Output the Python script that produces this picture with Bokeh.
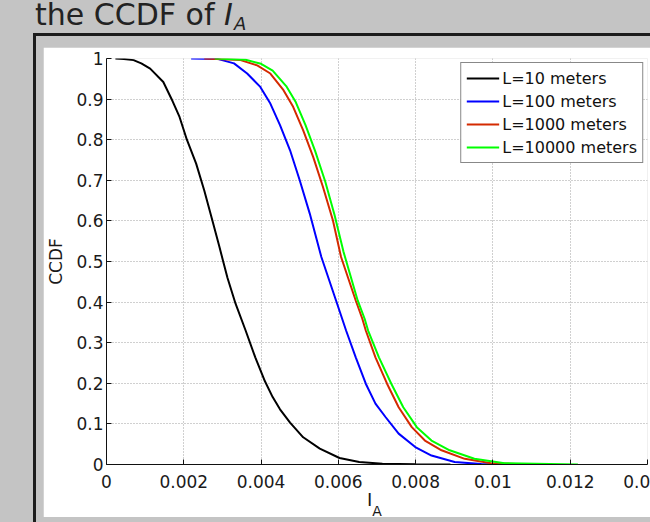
from bokeh.plotting import figure
from bokeh.layouts import column
from bokeh.models import Range1d, FixedTicker, Legend, LegendItem, Div
from bokeh.embed import file_html
from bokeh.resources import INLINE

# CCDF samples of the aggregate interference I_A for four region sizes L
ia_l10 = [0.00023, 0.00045, 0.0007, 0.0009, 0.00113, 0.00147, 0.00168, 0.00189,
          0.00208, 0.00232, 0.00253, 0.00274, 0.00292, 0.00302, 0.00313, 0.00334,
          0.0036, 0.00385, 0.0041, 0.0043, 0.00449, 0.00475, 0.00509, 0.00552,
          0.00603, 0.00654, 0.00714, 0.0080, 0.0089]
ccdf_l10 = [1.0, 0.999, 0.996, 0.988, 0.975, 0.942, 0.901, 0.856,
            0.800, 0.741, 0.675, 0.601, 0.537, 0.500, 0.460, 0.396,
            0.330, 0.264, 0.205, 0.166, 0.136, 0.103, 0.067, 0.039,
            0.016, 0.006, 0.002, 0.0005, 0.0]

ia_l100 = [0.00219, 0.00287, 0.0033, 0.00364, 0.00398, 0.00424, 0.00449, 0.00475,
           0.005, 0.00526, 0.00556, 0.00594, 0.0062, 0.00645, 0.00671, 0.00696,
           0.00722, 0.00756, 0.00799, 0.00841, 0.00901, 0.0097, 0.0104]
ccdf_l100 = [1.0, 0.999, 0.988, 0.963, 0.930, 0.889, 0.836, 0.774,
             0.700, 0.618, 0.511, 0.404, 0.330, 0.264, 0.199, 0.150,
             0.117, 0.076, 0.043, 0.022, 0.006, 0.001, 0.0]

ia_l1000 = [0.00253, 0.00347, 0.0039, 0.00424, 0.00458, 0.00483, 0.00509, 0.00535,
            0.0056, 0.00586, 0.00607, 0.00645, 0.00662, 0.00671, 0.00696, 0.00726,
            0.00756, 0.0079, 0.00824, 0.00867, 0.00927, 0.00995, 0.0110]
ccdf_l1000 = [1.0, 0.996, 0.983, 0.963, 0.922, 0.881, 0.823, 0.757,
              0.684, 0.601, 0.511, 0.404, 0.359, 0.330, 0.264, 0.199,
              0.141, 0.092, 0.059, 0.035, 0.014, 0.003, 0.0]

ia_l10000 = [0.0028, 0.0036, 0.0040, 0.0043, 0.00465, 0.0049, 0.00515, 0.0054,
             0.00566, 0.0059, 0.00613, 0.0065, 0.00668, 0.00677, 0.00705, 0.00737,
             0.00768, 0.00803, 0.00841, 0.00888, 0.00952, 0.0103, 0.0122]
ccdf_l10000 = [1.0, 0.997, 0.987, 0.970, 0.932, 0.892, 0.836, 0.772,
               0.697, 0.615, 0.525, 0.404, 0.359, 0.330, 0.264, 0.199,
               0.141, 0.092, 0.059, 0.035, 0.014, 0.003, 0.0]

series_names = ["L=10 meters", "L=100 meters", "L=1000 meters", "L=10000 meters"]
series_colors = ["#000000", "#0000ff", "#d42a00", "#00ff00"]

x_ticks = [0.0, 0.002, 0.004, 0.006, 0.008, 0.01, 0.012, 0.014]
x_tick_labels = ["0", "0.002", "0.004", "0.006", "0.008", "0.01", "0.012", "0.014"]
y_ticks = [0.0, 0.1, 0.2, 0.3, 0.4, 0.5, 0.6, 0.7, 0.8, 0.9, 1.0]
y_tick_labels = ["0", "0.1", "0.2", "0.3", "0.4", "0.5", "0.6", "0.7", "0.8", "0.9", "1"]

FONT = "DejaVu Sans"
WINDOW_GRAY = "#c4c4c4"
TEXT = "#1a1a1a"

# white figure panel; the frame sits at x 101..647, y 58..464 of the window,
# the panel runs past the right edge of the window, which crops it
p = figure(width=640, height=470,
           x_range=Range1d(0, 0.014), y_range=Range1d(0, 1),
           output_backend="svg", toolbar_location=None,
           min_border_left=58, min_border_right=36,
           min_border_top=11, min_border_bottom=53,
           border_fill_color="white", background_fill_color="white",
           outline_line_color=None, margin=(0, 0, 0, 43),
           styles={"box-shadow": "2px -2px 0 9px %s, 2px -2px 0 12px #1c1c1c" % WINDOW_GRAY})

# axes and grid
xax, yax = p.xaxis[0], p.yaxis[0]
xax.ticker = FixedTicker(ticks=x_ticks, minor_ticks=[])
yax.ticker = FixedTicker(ticks=y_ticks, minor_ticks=[])
xax.major_label_overrides = {float(t): s for t, s in zip(x_ticks, x_tick_labels)}
yax.major_label_overrides = {float(t): s for t, s in zip(y_ticks, y_tick_labels)}
for ax in (xax, yax):
    ax.axis_line_color = "#111111"
    ax.axis_line_width = 1
    ax.major_tick_line_color = "#111111"
    ax.major_tick_in = 5
    ax.major_tick_out = 0
    ax.minor_tick_in = 0
    ax.minor_tick_out = 0
    ax.major_label_text_font = FONT
    ax.major_label_text_font_size = "17px"
    ax.major_label_text_color = TEXT
    ax.axis_label_text_font = FONT
    ax.axis_label_text_font_style = "normal"
    ax.axis_label_text_color = TEXT
xax.major_label_standoff = 10
yax.major_label_standoff = 3
yax.axis_label = "CCDF"
yax.axis_label_text_font_size = "17px"
yax.axis_label_standoff = 7

for g in (p.xgrid[0], p.ygrid[0]):
    g.grid_line_color = "#a0a0a0"
    g.grid_line_dash = "1 2"
    g.grid_line_width = 1

# CCDF curves
series_x = [ia_l10, ia_l100, ia_l1000, ia_l10000]
series_y = [ccdf_l10, ccdf_l100, ccdf_l1000, ccdf_l10000]
items = []
for xs, ys, name, col in zip(series_x, series_y, series_names, series_colors):
    r = p.line(xs, ys, line_color=col, line_width=2)
    items.append(LegendItem(label=name, renderers=[r]))

legend = Legend(items=items, location="top_right", margin=4,
                padding=5, spacing=3, label_height=20, glyph_height=20,
                glyph_width=33, label_standoff=3,
                label_text_font=FONT, label_text_font_size="16px",
                label_text_color="#111111",
                border_line_color="#111111", border_line_width=1.5,
                background_fill_color="white", background_fill_alpha=1.0)
p.add_layout(legend)

# window title above the panel
title_html = (
    '<div style="margin-left:35px; font-family:\'DejaVu Sans\'; font-size:30px; '
    'line-height:30px; color:#222222; white-space:nowrap;">'
    'the CCDF of <i>I</i><span style="font-style:italic; font-size:18px; '
    'margin-left:1px; position:relative; top:5px;">A</span></div>'
)
title = Div(text=title_html, width=650, height=47, margin=(0, 0, 0, 0))

# x axis label I_A, laid over the bottom of the panel under the axis
xlabel_html = (
    '<div style="font-family:\'DejaVu Sans\'; font-size:18px; line-height:18px; '
    'color:#1a1a1a; white-space:nowrap;">I<span style="font-size:14px; '
    'position:relative; top:10px;">A</span></div>'
)
xlabel = Div(text=xlabel_html, width=24, height=26, margin=(-26, 0, 0, 367))

page = column(title, p, xlabel, width=650, height=522, spacing=0,
              styles={"background-color": WINDOW_GRAY, "overflow": "hidden"})

open("out.html", "w").write(file_html(page, INLINE))
